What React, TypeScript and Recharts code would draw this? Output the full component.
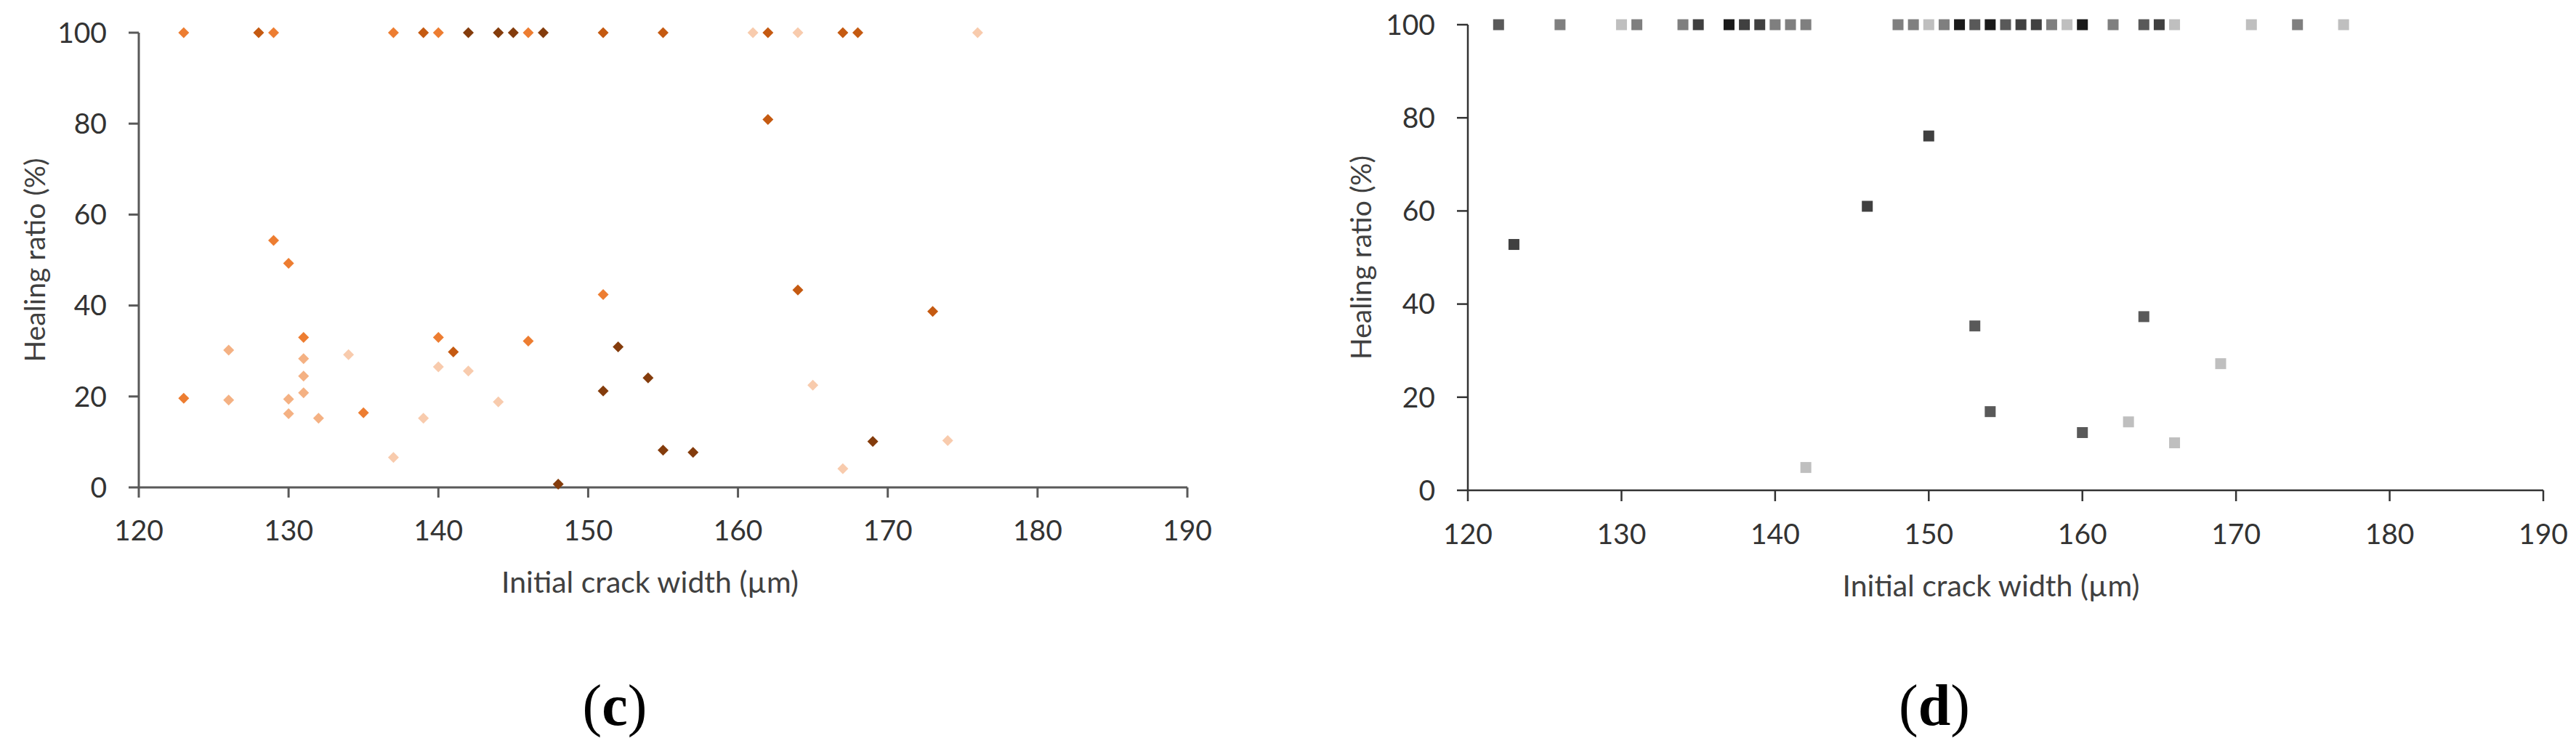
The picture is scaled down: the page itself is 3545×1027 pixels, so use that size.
import { ScatterChart, Scatter, XAxis, YAxis } from "recharts";

const xTicks = [120, 130, 140, 150, 160, 170, 180, 190];
const yTicks = [0, 20, 40, 60, 80, 100];
const xTitle = "Initial crack width (µm)";
const yTitle = "Healing ratio (%)";

// panel (c) – orange shades
const cLightest = [
  { x: 161, y: 100 }, { x: 164, y: 100 }, { x: 176, y: 100 },
  { x: 134, y: 29.2 }, { x: 137, y: 6.6 }, { x: 139, y: 15.2 }, { x: 140, y: 26.5 },
  { x: 142, y: 25.6 }, { x: 144, y: 18.8 }, { x: 165, y: 22.5 }, { x: 174, y: 10.3 }, { x: 167, y: 4.1 },
];
const cLight = [
  { x: 126, y: 30.2 }, { x: 126, y: 19.2 }, { x: 130, y: 19.4 }, { x: 130, y: 16.2 },
  { x: 131, y: 28.3 }, { x: 131, y: 24.5 }, { x: 131, y: 20.8 }, { x: 132, y: 15.2 },
];
const cMedium = [
  { x: 123, y: 100 }, { x: 129, y: 100 }, { x: 137, y: 100 }, { x: 140, y: 100 }, { x: 146, y: 100 },
  { x: 129, y: 54.3 }, { x: 130, y: 49.3 }, { x: 123, y: 19.6 }, { x: 131, y: 33 },
  { x: 135, y: 16.4 }, { x: 140, y: 33 }, { x: 146, y: 32.2 }, { x: 151, y: 42.4 },
];
const cDark = [
  { x: 128, y: 100 }, { x: 139, y: 100 }, { x: 151, y: 100 }, { x: 155, y: 100 },
  { x: 162, y: 100 }, { x: 167, y: 100 }, { x: 168, y: 100 },
  { x: 141, y: 29.8 }, { x: 162, y: 80.9 }, { x: 164, y: 43.4 }, { x: 173, y: 38.7 },
];
const cDarkest = [
  { x: 142, y: 100 }, { x: 144, y: 100 }, { x: 145, y: 100 }, { x: 147, y: 100 },
  { x: 148, y: 0.7 }, { x: 151, y: 21.2 }, { x: 152, y: 30.9 }, { x: 154, y: 24.1 },
  { x: 155, y: 8.2 }, { x: 157, y: 7.7 }, { x: 169, y: 10.1 },
];

// panel (d) – gray shades
const dLight = [
  { x: 130, y: 100 }, { x: 150, y: 100 }, { x: 159, y: 100 }, { x: 166, y: 100 }, { x: 171, y: 100 }, { x: 177, y: 100 },
  { x: 142, y: 4.9 }, { x: 169, y: 27.2 }, { x: 163, y: 14.7 }, { x: 166, y: 10.2 },
];
const dMedium = [
  { x: 126, y: 100 }, { x: 131, y: 100 }, { x: 134, y: 100 }, { x: 140, y: 100 }, { x: 141, y: 100 }, { x: 142, y: 100 },
  { x: 148, y: 100 }, { x: 149, y: 100 }, { x: 151, y: 100 }, { x: 158, y: 100 }, { x: 162, y: 100 }, { x: 174, y: 100 },
];
const dDark = [
  { x: 122, y: 100 }, { x: 153, y: 100 }, { x: 155, y: 100 }, { x: 164, y: 100 },
  { x: 153, y: 35.3 }, { x: 164, y: 37.3 }, { x: 154, y: 16.9 }, { x: 160, y: 12.4 },
];
const dDarker = [
  { x: 135, y: 100 }, { x: 138, y: 100 }, { x: 139, y: 100 }, { x: 156, y: 100 }, { x: 157, y: 100 }, { x: 165, y: 100 },
  { x: 123, y: 52.8 }, { x: 146, y: 61 }, { x: 150, y: 76.1 },
];
const dBlack = [
  { x: 137, y: 100 }, { x: 152, y: 100 }, { x: 154, y: 100 }, { x: 160, y: 100 },
];

const font = "Lato, 'Open Sans', sans-serif";
const textColor = "#333333";

function Diamond({ cx, cy, fill }) {
  const r = 7.5;
  return <polygon points={`${cx},${cy - r} ${cx + r},${cy} ${cx},${cy + r} ${cx - r},${cy}`} fill={fill} />;
}

function Square({ cx, cy, fill }) {
  const s = 15;
  return <rect x={cx - s / 2} y={cy - s / 2} width={s} height={s} fill={fill} />;
}

const yTitleAt = (dx) => (props) => {
  const vb = props.viewBox;
  const cx = vb.x + dx;
  const cy = vb.y + vb.height / 2;
  return (
    <text x={cx} y={cy} transform={`rotate(-90, ${cx}, ${cy})`} textAnchor="middle" dominantBaseline="central"
      style={{ fontFamily: font, fontSize: 39, fill: "#404040" }}>
      {yTitle}
    </text>
  );
};

// title sits a little left of the plot centre in the original
const xTitleAt = (dy, shift) => (props) => {
  const vb = props.viewBox;
  return (
    <text x={vb.x + vb.width / 2 + shift} y={vb.y + dy} textAnchor="middle" dominantBaseline="central"
      style={{ fontFamily: font, fontSize: 41, fill: "#404040" }}>
      {xTitle}
    </text>
  );
};

function Panel({ width, yAxisWidth, xAxisHeight, top, right, axisColor, axisWidth, series, shape, tickSize, yTitleX, xTitleY, xTitleShift }) {
  const tick = { fill: textColor, fontSize: 39, fontFamily: font };
  const line = { stroke: axisColor, strokeWidth: axisWidth };
  return (
    <ScatterChart width={width} height={1027} margin={{ top, right, bottom: 0, left: 0 }}>
      <XAxis type="number" dataKey="x" domain={[120, 190]} ticks={xTicks} interval={0}
        height={xAxisHeight} tick={tick} tickSize={tickSize} tickMargin={31}
        axisLine={line} tickLine={line} label={xTitleAt(xTitleY, xTitleShift)} />
      <YAxis type="number" dataKey="y" domain={[0, 100]} ticks={yTicks} interval={0}
        width={yAxisWidth} tick={tick} tickSize={tickSize} tickMargin={30}
        axisLine={line} tickLine={line} label={yTitleAt(yTitleX)} />
      {series.map((s, i) => (
        <Scatter key={i} data={s.data} fill={s.color} isAnimationActive={false}
          shape={(p) => shape({ ...p, fill: s.color })} />
      ))}
    </ScatterChart>
  );
}

export default function App() {
  const cSeries = [
    { data: cLightest, color: "#F8CBAD" },
    { data: cLight, color: "#F4B183" },
    { data: cMedium, color: "#ED7D31" },
    { data: cDark, color: "#C55A11" },
    { data: cDarkest, color: "#843C0C" },
  ];
  const dSeries = [
    { data: dLight, color: "#BFBFBF" },
    { data: dMedium, color: "#7F7F7F" },
    { data: dDark, color: "#595959" },
    { data: dDarker, color: "#404040" },
    { data: dBlack, color: "#1A1A1A" },
  ];
  const caption = { position: "absolute", fontFamily: "'Liberation Serif', serif", fontSize: 80, color: "#000", lineHeight: 1, transform: "translate(-50%, -50%)" };
  return (
    <div style={{ position: "absolute", left: 0, top: 0, width: 3545, height: 1027, background: "#fff" }}>
      <div style={{ position: "absolute", left: 0, top: 0 }}>
        <Panel width={1700} yAxisWidth={191} xAxisHeight={356} top={45} right={66}
          axisColor="#595959" axisWidth={3} series={cSeries} shape={Diamond} tickSize={14}
          yTitleX={47} xTitleY={129} xTitleShift={-18} />
      </div>
      <div style={{ position: "absolute", left: 1772, top: 0 }}>
        <Panel width={1773} yAxisWidth={248} xAxisHeight={352} top={34} right={45}
          axisColor="#333333" axisWidth={2.5} series={dSeries} shape={Square} tickSize={15}
          yTitleX={100} xTitleY={130} xTitleShift={-20} />
      </div>
      <div style={{ ...caption, left: 846, top: 971 }}>(<b>c</b>)</div>
      <div style={{ ...caption, left: 2662, top: 971 }}>(<b>d</b>)</div>
    </div>
  );
}
